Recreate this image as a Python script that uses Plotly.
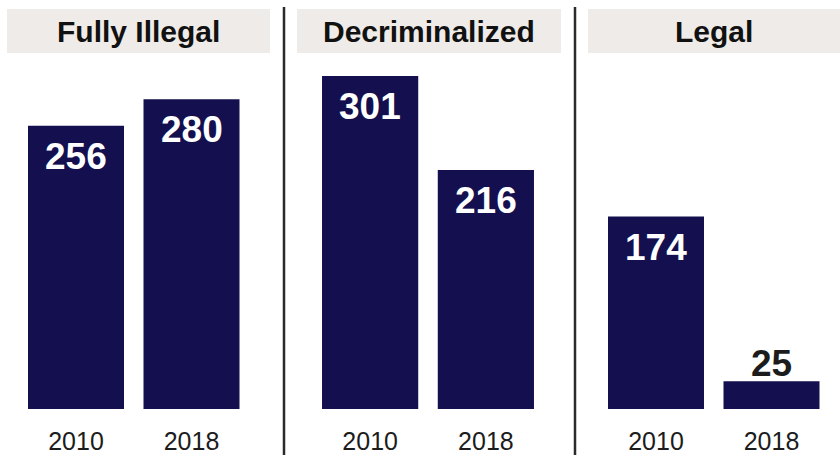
import plotly.graph_objects as go

# Data
groups = ["Fully Illegal", "Decriminalized", "Legal"]
years = ["2010", "2018"]
values = {
    "Fully Illegal": [256, 280],
    "Decriminalized": [301, 216],
    "Legal": [174, 25],
}

W, H = 840, 456
BAR = "#14104f"
HEAD_BG = "#eeebe8"
INK = "#1c1c1c"
FONT = "Liberation Sans, Arial, sans-serif"

# pixel helpers for paper coordinates
px = lambda x: x / W
py = lambda y: 1 - y / H

# horizontal pixel extents of each panel's plotting area
x_domains = [(18.25, 249.25), (312.25, 543.75), (598.25, 829.25)]
header_boxes = [(7, 270), (297, 561), (588, 840)]
dividers = [284, 575]

base_px, top_px = 409, 60
px_per_unit = 333 / 301
y_top = (base_px - top_px) / px_per_unit
bar_width = 96 / 115.5
pos = list(range(len(years)))

fig = go.Figure()
for i, g in enumerate(groups):
    xa = "x" if i == 0 else f"x{i+1}"
    vals = values[g]
    fig.add_trace(go.Bar(
        x=pos, y=vals, xaxis=xa, yaxis="y", width=bar_width,
        marker=dict(color=BAR, line=dict(width=0)),
        hoverinfo="skip", showlegend=False,
    ))
    for p, v in zip(pos, vals):
        inside = v > 60
        fig.add_annotation(
            x=p, y=v, xref=xa, yref="y",
            text=str(v), showarrow=False,
            yanchor="top" if inside else "bottom",
            yshift=-8 if inside else -5,
            font=dict(family=FONT, size=37, color="white" if inside else INK,
                      weight="bold"),
        )
    x0, x1 = x_domains[i]
    ax = dict(
        domain=[px(x0), px(x1)], range=[-0.5, len(years) - 0.5],
        tickmode="array", tickvals=pos, ticktext=years,
        showgrid=False, zeroline=False, showline=False, ticks="",
        tickfont=dict(family=FONT, size=25, color=INK),
        ticklabelstandoff=15, fixedrange=True, automargin=False,
        anchor="y",
    )
    fig.update_layout(**{("xaxis" if i == 0 else f"xaxis{i+1}"): ax})

    # header band and title
    hx0, hx1 = header_boxes[i]
    fig.add_shape(type="rect", xref="paper", yref="paper",
                  x0=px(hx0), x1=px(hx1), y0=py(53), y1=py(9),
                  fillcolor=HEAD_BG, line=dict(width=0), layer="below")
    fig.add_annotation(xref="paper", yref="paper",
                       x=px((hx0 + hx1) / 2), y=py(31),
                       text=g, showarrow=False,
                       xanchor="center", yanchor="middle",
                       font=dict(family=FONT, size=30, color="#111111",
                                 weight="bold"))

for d in dividers:
    fig.add_shape(type="line", xref="paper", yref="paper",
                  x0=px(d), x1=px(d), y0=py(7), y1=py(455),
                  line=dict(color="#2b2b2b", width=2.5))

fig.update_layout(
    width=W, height=H,
    margin=dict(l=0, r=0, t=0, b=0, autoexpand=False),
    paper_bgcolor="white", plot_bgcolor="white",
    yaxis=dict(domain=[(H - base_px) / H, (H - top_px) / H],
               range=[0, y_top], visible=False, fixedrange=True,
               automargin=False),
)

fig.write_html("out.html", config={"displayModeBar": False})
